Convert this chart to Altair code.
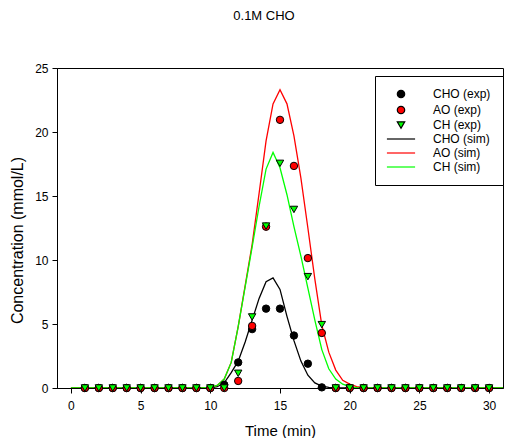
import altair as alt
import pandas as pd

# ---------------- data ----------------
time_exp = list(range(1, 31))
cho_exp = [0, 0, 0, 0, 0, 0, 0, 0, 0, 0,
           0.25, 2.0, 4.6, 6.2, 6.2, 4.1, 1.9, 0.05, 0.0, 0,
           0, 0, 0, 0, 0, 0, 0, 0, 0, 0]
ao_exp = [0, 0, 0, 0, 0, 0, 0, 0, 0, 0,
          0, 0.55, 4.85, 12.6, 20.95, 17.35, 10.15, 4.3, 0, 0,
          0, 0, 0, 0, 0, 0, 0, 0, 0, 0]
ch_exp = [0, 0, 0, 0, 0, 0, 0, 0, 0, 0,
          0, 1.15, 5.55, 12.65, 17.55, 13.95, 8.7, 4.95, 0, 0,
          0, 0, 0, 0, 0, 0, 0, 0, 0, 0]

time_sim = [0, 9.5, 10, 10.5, 11, 11.5, 12, 12.5, 13, 13.5, 14, 14.5, 15, 15.5,
            16, 16.5, 17, 17.5, 18, 18.5, 19, 19.5, 20, 20.5, 21, 21.5, 31]
cho_sim = [0, 0, 0.02, 0.1, 0.4, 1.2, 2.1, 3.6, 5.3, 7.0, 8.3, 8.6, 7.7, 5.6,
           3.7, 2.1, 1.0, 0.4, 0.15, 0.05, 0.01, 0, 0, 0, 0, 0, 0]
ao_sim = [0, 0, 0.05, 0.2, 0.7, 2.0, 4.8, 8.0, 11.2, 15.2, 19.3, 22.2, 23.3, 22.2,
          19.7, 16.4, 12.5, 8.5, 4.9, 2.8, 1.4, 0.6, 0.3, 0.1, 0.03, 0, 0]
ch_sim = [0, 0, 0.05, 0.2, 0.7, 2.0, 4.8, 7.9, 11.0, 14.2, 17.1, 18.4, 17.2, 15.1,
          12.6, 10.3, 7.8, 5.3, 3.0, 1.5, 0.7, 0.3, 0.1, 0.03, 0, 0, 0]

series = ["CHO (exp)", "AO (exp)", "CH (exp)", "CHO (sim)", "AO (sim)", "CH (sim)"]
fill_colors = ["#000000", "#ff0000", "#00ff00", "#000000", "#ff0000", "#00ff00"]
stroke_colors = ["#000000", "#000000", "#000000", "#000000", "#ff0000", "#00ff00"]
line_path = "M-3.8,0H3.8"
shapes = ["circle", "circle", "triangle-down", line_path, line_path, line_path]

x_ticks = [0, 5, 10, 15, 20, 25, 30]
y_ticks = [0, 5, 10, 15, 20, 25]

# ---------------- tables ----------------
exp_rows = []
for name, vals in [("CHO (exp)", cho_exp), ("AO (exp)", ao_exp), ("CH (exp)", ch_exp)]:
    for t, v in zip(time_exp, vals):
        exp_rows.append({"t": t, "c": v, "series": name})
exp_df = pd.DataFrame(exp_rows)

sim_rows = []
for name, vals in [("CHO (sim)", cho_sim), ("AO (sim)", ao_sim), ("CH (sim)", ch_sim)]:
    for t, v in zip(time_sim, vals):
        sim_rows.append({"t": t, "c": v, "series": name})
sim_df = pd.DataFrame(sim_rows)

FONT = "Liberation Sans"

legend = alt.Legend(
    title=None, orient="none", legendX=318, legendY=8,
    padding=12, symbolOffset=8, labelOffset=26, rowPadding=2,
    strokeColor="#000000", fillColor="#ffffff",
    labelFont=FONT, labelFontSize=12, labelColor="#000000",
    symbolSize=55, symbolStrokeWidth=1.2,
)

x_enc = alt.X("t:Q", scale=alt.Scale(domain=[-1, 31], nice=False, zero=False),
              axis=alt.Axis(values=x_ticks, title="Time (min)", grid=False,
                            tickSize=5, labelPadding=7, titlePadding=12,
                            labelFontSize=12, titleFontSize=15, format="d",
                            titleFontWeight="normal", titleFont=FONT, labelFont=FONT,
                            domainColor="#000000", tickColor="#000000",
                            labelColor="#000000", titleColor="#000000"))
y_enc = alt.Y("c:Q", scale=alt.Scale(domain=[0, 25], nice=False),
              axis=alt.Axis(values=y_ticks, title="Concentration (mmol/L)", grid=False,
                            tickSize=5, labelPadding=4, titlePadding=9, titleY=172,
                            labelFontSize=12, titleFontSize=16, format="d",
                            titleFontWeight="normal", titleFont=FONT, labelFont=FONT,
                            domainColor="#000000", tickColor="#000000",
                            labelColor="#000000", titleColor="#000000"))

fill_scale = alt.Scale(domain=series, range=fill_colors)
stroke_scale = alt.Scale(domain=series, range=stroke_colors)
shape_scale = alt.Scale(domain=series, range=shapes)

lines = alt.Chart(sim_df).mark_line(strokeWidth=1.3, clip=True).encode(
    x=x_enc, y=y_enc,
    stroke=alt.Stroke("series:N", scale=stroke_scale, legend=legend, sort=series),
    detail="series:N",
)

points = alt.Chart(exp_df).mark_point(filled=True, size=55, strokeWidth=1, opacity=1).encode(
    x=x_enc, y=y_enc,
    fill=alt.Fill("series:N", scale=fill_scale, legend=legend, sort=series),
    stroke=alt.Stroke("series:N", scale=stroke_scale, legend=legend, sort=series),
    shape=alt.Shape("series:N", scale=shape_scale, legend=legend, sort=series),
)

chart = alt.layer(lines, points).properties(
    width=446, height=320,
    background="#ffffff",
    title=alt.TitleParams("0.1M CHO", fontSize=13, font=FONT, fontWeight="normal",
                          color="#000000", offset=39, dx=-16),
    autosize=alt.AutoSizeParams(type="none"),
    padding={"left": 49, "top": 60, "right": 18, "bottom": 50},
).configure_view(
    stroke="#000000", strokeWidth=1
)

chart.save("out.html", embed_options={"renderer": "svg", "actions": False})
